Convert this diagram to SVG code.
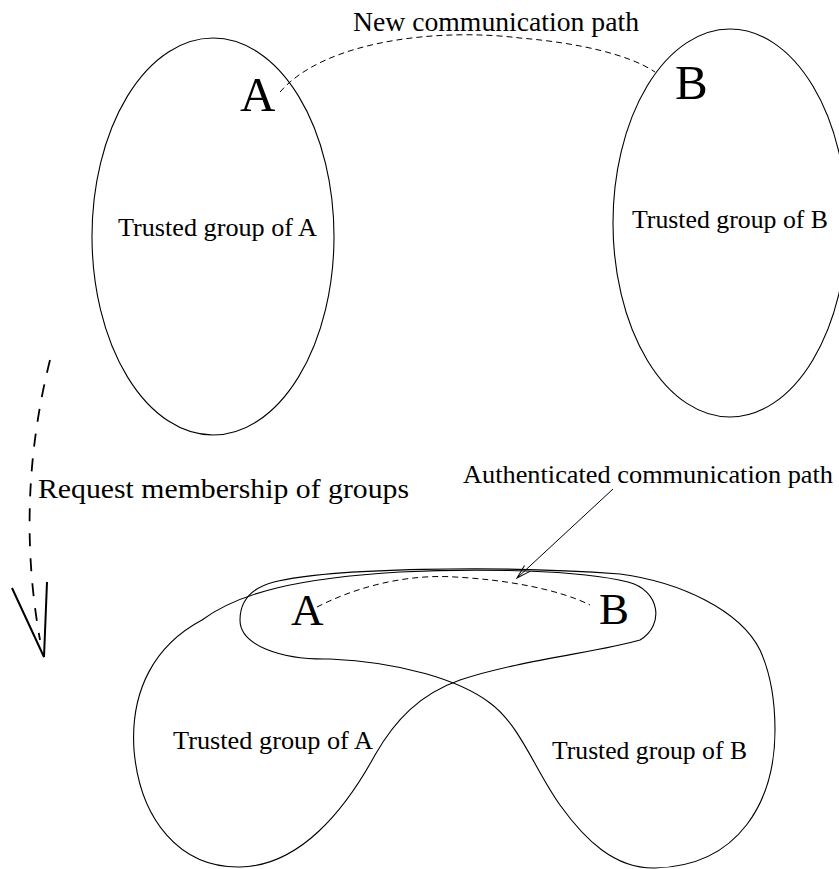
<svg xmlns="http://www.w3.org/2000/svg" width="839" height="869" viewBox="0 0 839 869">
  <defs>
    <style>
      .outline { fill: none; stroke: #000; stroke-width: 1.1; }
      .dashed { fill: none; stroke: #000; stroke-width: 1; stroke-dasharray: 6 4; }
      .bigdash { fill: none; stroke: #000; stroke-width: 1.8; stroke-dasharray: 13 12; }
      .label { font-family: "Liberation Serif", "Times New Roman", serif; font-size: 26px; fill: #000; }
      .letter { font-family: "Liberation Serif", "Times New Roman", serif; font-size: 49px; fill: #000; }
    </style>
    <marker id="openArrow" markerWidth="16" markerHeight="12" refX="15" refY="6" orient="auto" markerUnits="userSpaceOnUse">
      <path d="M1,2 L15,6 L1,10" fill="none" stroke="#000" stroke-width="1"/>
    </marker>
  </defs>

  <rect width="839" height="869" fill="#fff"/>

  <!-- upper half: two separate trusted groups -->
  <g id="groupA-top">
    <ellipse class="outline" cx="213" cy="236.5" rx="121" ry="198.5"/>
    <text class="letter" x="240" y="111">A</text>
    <text class="label" x="118" y="236" textLength="199" lengthAdjust="spacingAndGlyphs">Trusted group of A</text>
  </g>

  <g id="groupB-top">
    <ellipse class="outline" cx="730" cy="223" rx="117" ry="194"/>
    <text class="letter" x="675" y="99">B</text>
    <text class="label" x="632" y="228" textLength="196" lengthAdjust="spacingAndGlyphs">Trusted group of B</text>
  </g>

  <!-- lower half: merged groups -->
  <g id="groupA-bottom">
    <path class="outline" d="M202,620 C240,592 300,578 400,572 C480,568 580,570 628,582 C660,590 665,625 640,640 C600,652 520,660 460,680 C420,694 395,720 375,755 C345,810 300,866 240,867 C180,868 140,820 134,750 C130,690 155,645 202,620 Z"/>
    <text class="label" x="173" y="749" textLength="200" lengthAdjust="spacingAndGlyphs">Trusted group of A</text>
    <text class="letter" x="291" y="625" style="font-size:45px">A</text>
  </g>

  <g id="groupB-bottom">
    <path class="outline" d="M274,582 C330,568 500,565 620,574 C680,582 740,610 760,650 C770,672 775,700 775,730 C775,800 740,866 655,868 C615,869 585,840 560,805 C535,770 520,725 490,703 C460,680 400,662 330,659 C280,660 240,645 240,620 C240,598 255,587 274,582 Z"/>
    <text class="label" x="552" y="759" textLength="195" lengthAdjust="spacingAndGlyphs">Trusted group of B</text>
    <text class="letter" x="599" y="624" style="font-size:45px">B</text>
  </g>

  <!-- connectors -->
  <g id="connectors">
    <path class="dashed" d="M280,92 C325,40 440,28 520,38 C580,43 630,55 655,72"/>
    <text class="label" x="353" y="31" style="font-size:27px" textLength="286" lengthAdjust="spacingAndGlyphs">New communication path</text>

    <path class="dashed" d="M317,607 C360,585 410,574 455,577 C510,580 560,590 590,605"/>

    <line x1="613" y1="489" x2="517" y2="578" stroke="#000" stroke-width="1" marker-end="url(#openArrow)"/>
    <text class="label" x="463" y="483" textLength="370" lengthAdjust="spacingAndGlyphs">Authenticated communication path</text>

    <path class="bigdash" d="M50,360 Q15,500 40,640"/>
    <path d="M12,588 L44,657 L47,582" fill="none" stroke="#000" stroke-width="2"/>
    <text class="label" x="38" y="498" style="font-size:28px" textLength="371" lengthAdjust="spacingAndGlyphs">Request membership of groups</text>
  </g>
</svg>
